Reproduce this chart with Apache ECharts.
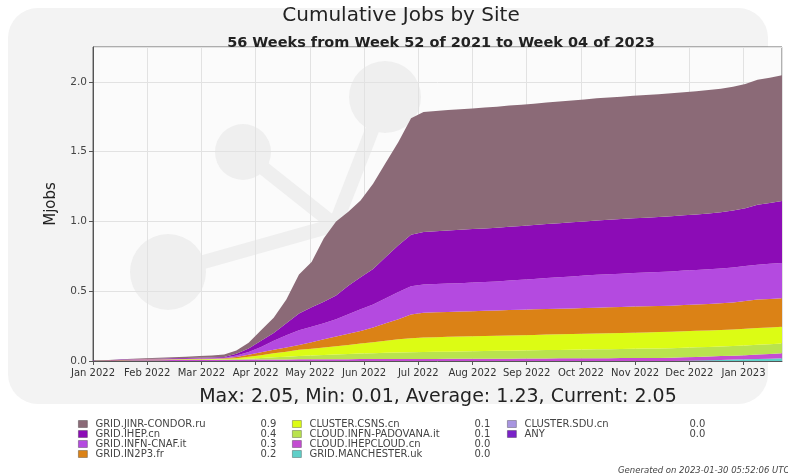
<!DOCTYPE html>
<html>
<head>
<meta charset="utf-8">
<title>Cumulative Jobs by Site</title>
<script src="https://cdn.jsdelivr.net/npm/echarts@6/dist/echarts.min.js"></script>
<style>
html,body{margin:0;padding:0;background:#fff}
#main{width:788px;height:474px}
</style>
</head>
<body>
<div id="main"></div>
<script>
// week start dates (Mondays)
const weeks=['2021-12-27',
  '2022-01-03','2022-01-10','2022-01-17','2022-01-24','2022-01-31',
  '2022-02-07','2022-02-14','2022-02-21','2022-02-28',
  '2022-03-07','2022-03-14','2022-03-21','2022-03-28',
  '2022-04-04','2022-04-11','2022-04-18','2022-04-25',
  '2022-05-02','2022-05-09','2022-05-16','2022-05-23','2022-05-30',
  '2022-06-06','2022-06-13','2022-06-20','2022-06-27',
  '2022-07-04','2022-07-11','2022-07-18','2022-07-25',
  '2022-08-01','2022-08-08','2022-08-15','2022-08-22','2022-08-29',
  '2022-09-05','2022-09-12','2022-09-19','2022-09-26',
  '2022-10-03','2022-10-10','2022-10-17','2022-10-24','2022-10-31',
  '2022-11-07','2022-11-14','2022-11-21','2022-11-28',
  '2022-12-05','2022-12-12','2022-12-19','2022-12-26',
  '2023-01-02','2023-01-09','2023-01-16','2023-01-23']

const monthLabels=['Jan 2022','Feb 2022','Mar 2022','Apr 2022','May 2022','Jun 2022','Jul 2022',
  'Aug 2022','Sep 2022','Oct 2022','Nov 2022','Dec 2022','Jan 2023']
const yTicks=['0.0','0.5','1.0','1.5','2.0']

const sites=['GRID.JINR-CONDOR.ru','GRID.IHEP.cn','GRID.INFN-CNAF.it','GRID.IN2P3.fr',
  'CLUSTER.CSNS.cn','CLOUD.INFN-PADOVANA.it','CLOUD.IHEPCLOUD.cn','GRID.MANCHESTER.uk',
  'CLUSTER.SDU.cn','ANY']
const siteTotals=['0.9','0.4','0.3','0.2','0.1','0.1','0.0','0.0','0.0','0.0']
const siteColors=['#8b6a77','#8c0cb6','#b44ae0','#db8216','#dcfc14','#b9e34e','#c44dd2','#5fcfc8','#a895e0','#7a22c8']

// cumulative Mjobs per site, one value per week
const jinr=[0,0.001,0.002,0.002,0.004,0.005,0.007,0.008,0.010,0.012,0.015,0.018,
  0.023,0.040,0.075,0.110,0.170,0.280,0.325,0.455,0.530,0.530,0.550,0.610,0.675,0.740,0.835,0.860,
  0.862,0.863,0.864,0.865,0.866,0.867,0.868,0.869,0.870,0.871,0.872,0.873,0.874,0.875,0.876,0.877,0.878,0.879,0.880,0.881,
  0.882,0.883,0.884,0.885,0.887,0.890,0.895,0.897,0.900]
const ihep=[0,0.001,0.001,0.002,0.002,0.003,0.003,0.004,0.004,0.005,0.005,0.006,
  0.012,0.025,0.045,0.055,0.085,0.120,0.140,0.155,0.170,0.205,0.230,0.255,0.295,0.335,0.370,0.377,
  0.378,0.380,0.382,0.383,0.384,0.385,0.386,0.386,0.386,0.387,0.387,0.388,0.388,0.389,0.390,0.391,0.392,0.393,0.394,0.395,
  0.396,0.398,0.400,0.403,0.408,0.415,0.430,0.436,0.445]
const cnaf=[0,0,0,0.001,0.001,0.001,0.002,0.002,0.002,0.003,0.003,0.003,
  0.012,0.020,0.038,0.065,0.088,0.105,0.110,0.115,0.125,0.140,0.155,0.165,0.180,0.195,0.202,0.203,
  0.203,0.203,0.203,0.205,0.206,0.208,0.211,0.215,0.218,0.222,0.225,0.229,0.232,0.236,0.237,0.239,0.240,0.242,0.244,0.246,
  0.247,0.248,0.249,0.250,0.250,0.250,0.250,0.251,0.252]
const in2p3=[0,0,0.001,0.001,0.001,0.002,0.002,0.002,0.003,0.003,0.003,0.004,
  0.008,0.015,0.020,0.025,0.030,0.035,0.047,0.058,0.069,0.080,0.090,0.105,0.125,0.145,0.170,0.177,
  0.178,0.179,0.180,0.180,0.181,0.181,0.182,0.182,0.183,0.183,0.184,0.184,0.185,0.185,0.186,0.186,0.187,0.187,0.187,0.187,
  0.188,0.188,0.189,0.190,0.194,0.199,0.204,0.205,0.205]
const csns=[0,0,0,0.001,0.001,0.001,0.001,0.002,0.002,0.002,0.003,0.003,
  0.006,0.014,0.021,0.029,0.036,0.045,0.049,0.054,0.059,0.065,0.072,0.079,0.086,0.094,0.100,0.103,
  0.105,0.106,0.107,0.107,0.108,0.108,0.109,0.110,0.110,0.111,0.112,0.112,0.113,0.113,0.114,0.115,0.115,0.116,0.117,0.117,
  0.118,0.118,0.118,0.119,0.119,0.120,0.120,0.120,0.120]
const padovana=[0,0.001,0.001,0.001,0.002,0.002,0.002,0.002,0.003,0.003,0.003,0.004,
  0.005,0.006,0.011,0.015,0.020,0.023,0.027,0.030,0.034,0.037,0.039,0.042,0.045,0.046,0.048,0.050,
  0.051,0.051,0.052,0.054,0.054,0.056,0.057,0.057,0.059,0.060,0.060,0.062,0.063,0.064,0.065,0.065,0.067,0.067,0.068,0.069,
  0.069,0.069,0.069,0.069,0.069,0.070,0.070,0.070,0.070]
const ihepcloud=[0,0.002,0.003,0.004,0.005,0.006,0.006,0.007,0.007,0.008,0.008,0.009,
  0.009,0.010,0.010,0.011,0.011,0.012,0.012,0.013,0.013,0.013,0.014,0.014,0.014,0.015,0.015,0.015,
  0.015,0.016,0.016,0.016,0.017,0.017,0.017,0.018,0.018,0.018,0.019,0.019,0.019,0.020,0.020,0.021,0.021,0.022,0.022,0.023,
  0.024,0.025,0.026,0.027,0.028,0.029,0.031,0.033,0.035]
const manchester=[0,0,0,0,0,0,0,0,0,0,0,0,
  0,0,0,0,0,0,0,0,0,0,0,0,0,0,0,0,
  0,0,0,0,0,0,0,0,0,0,0,0,0,0,0,0,0,0,0,0,
  0.002,0.004,0.006,0.008,0.010,0.012,0.015,0.017,0.020]
const sdu=weeks.map(()=>0)
const anySite=weeks.map(()=>0)

const siteData={
  'GRID.JINR-CONDOR.ru':jinr,'GRID.IHEP.cn':ihep,'GRID.INFN-CNAF.it':cnaf,'GRID.IN2P3.fr':in2p3,
  'CLUSTER.CSNS.cn':csns,'CLOUD.INFN-PADOVANA.it':padovana,'CLOUD.IHEPCLOUD.cn':ihepcloud,
  'GRID.MANCHESTER.uk':manchester,'CLUSTER.SDU.cn':sdu,'ANY':anySite
}
// bottom of the stack first
const stackOrder=['CLUSTER.SDU.cn','ANY','GRID.MANCHESTER.uk','CLOUD.IHEPCLOUD.cn','CLOUD.INFN-PADOVANA.it',
  'CLUSTER.CSNS.cn','GRID.IN2P3.fr','GRID.INFN-CNAF.it','GRID.IHEP.cn','GRID.JINR-CONDOR.ru']

// position of a date in months from 1 Jan 2022
function monthPos(s){
  const [y,m,d]=s.split('-').map(Number)
  const days=new Date(y,m,0).getDate()
  return (y-2022)*12+(m-1)+(d-1)/days
}
const xs=weeks.map(monthPos)

const font='DejaVu Sans'
const myChart=echarts.init(document.querySelector('#main'))

function legendCol(names,left){
  return {
    data:names,
    orient:'vertical',
    left:left,
    top:419,
    padding:0,
    itemWidth:9,
    itemHeight:7,
    itemGap:0,
    icon:'rect',
    selectedMode:false,
    itemStyle:{borderColor:'rgba(0,0,0,0.35)',borderWidth:0.8},
    formatter:function(name){
      return '{n|'+name+'}{v|'+siteTotals[sites.indexOf(name)]+'}'
    },
    textStyle:{
      fontFamily:font,fontSize:10,color:'#444',lineHeight:9.5,
      rich:{
        n:{width:165,padding:[0,0,0,3],fontFamily:font,fontSize:10,color:'#444',lineHeight:9.5},
        v:{width:30,fontFamily:font,fontSize:10,color:'#444',lineHeight:9.5}
      }
    }
  }
}

const option={
  backgroundColor:'#fff',
  animation:false,
  color:siteColors,
  title:[
    {text:'Cumulative Jobs by Site',left:396,top:1,textAlign:'center',
      textStyle:{fontFamily:font,fontSize:20,fontWeight:'normal',color:'#222'}},
    {text:'56 Weeks from Week 52 of 2021 to Week 04 of 2023',left:436,top:31,textAlign:'center',
      textStyle:{fontFamily:font,fontSize:14.5,fontWeight:'bold',color:'#222'}},
    {text:'Max: 2.05, Min: 0.01, Average: 1.23, Current: 2.05',left:433,top:383,textAlign:'center',
      textStyle:{fontFamily:font,fontSize:19,fontWeight:'normal',color:'#222'}},
    {text:'Generated on 2023-01-30 05:52:06 UTC',left:613,top:461,
      textStyle:{fontFamily:font,fontSize:8.5,fontStyle:'italic',fontWeight:'normal',color:'#444'}}
  ],
  // faint watermark behind the plot
  graphic:[
    {type:'rect',z:-10,shape:{x:8,y:8,width:760,height:396,r:30},style:{fill:'#f3f3f3'}},
    {type:'rect',z:-9,shape:{x:93,y:47,width:689,height:314},style:{fill:'#fbfbfb'}},
    {type:'line',z:-8,shape:{x1:243,y1:152,x2:335,y2:225},style:{stroke:'#efefef',lineWidth:14}},
    {type:'line',z:-8,shape:{x1:168,y1:272,x2:335,y2:225},style:{stroke:'#efefef',lineWidth:14}},
    {type:'line',z:-8,shape:{x1:385,y1:97,x2:335,y2:225},style:{stroke:'#efefef',lineWidth:14}},
    {type:'circle',z:-8,shape:{cx:243,cy:152,r:28},style:{fill:'#efefef'}},
    {type:'circle',z:-8,shape:{cx:168,cy:272,r:38},style:{fill:'#efefef'}},
    {type:'circle',z:-8,shape:{cx:385,cy:97,r:36},style:{fill:'#efefef'}}
  ],
  legend:[
    legendCol(sites.slice(0,4),78),
    legendCol(sites.slice(4,8),292),
    legendCol(sites.slice(8),507)
  ],
  grid:{left:93,right:6,top:47,bottom:113,show:true,borderColor:'#666',borderWidth:1,backgroundColor:'transparent'},
  xAxis:{
    type:'value',
    min:0,
    max:xs[xs.length-1],
    interval:1,
    axisLine:{onZero:false,lineStyle:{color:'#555'}},
    axisTick:{show:true,length:4,lineStyle:{color:'#555'}},
    splitLine:{show:true,lineStyle:{color:'#e2e2e2'}},
    axisLabel:{
      showMaxLabel:false,
      fontFamily:font,fontSize:10,color:'#333',margin:7,
      formatter:v=>monthLabels[v]||''
    }
  },
  yAxis:{
    type:'value',
    min:0,
    max:2.25,
    interval:0.5,
    name:'Mjobs',
    nameLocation:'middle',
    nameGap:34,
    nameTextStyle:{fontFamily:font,fontSize:15,color:'#222'},
    axisLine:{show:true,lineStyle:{color:'#555'}},
    axisTick:{show:true,length:4,lineStyle:{color:'#555'}},
    splitLine:{show:true,lineStyle:{color:'#e2e2e2'}},
    axisLabel:{
      showMaxLabel:false,
      fontFamily:font,fontSize:10.5,color:'#444',margin:6,
      formatter:v=>yTicks[Math.round(v/0.5)]||''
    }
  },
  // value first so the stack is applied to y, not x
  series:stackOrder.map(name=>({
    name:name,
    type:'line',
    stack:'jobs',
    color:siteColors[sites.indexOf(name)],
    symbol:'none',
    lineStyle:{width:0},
    areaStyle:{opacity:1},
    encode:{x:1,y:0},
    data:xs.map((x,i)=>[siteData[name][i],x])
  }))
}

myChart.setOption(option)
</script>
</body>
</html>
